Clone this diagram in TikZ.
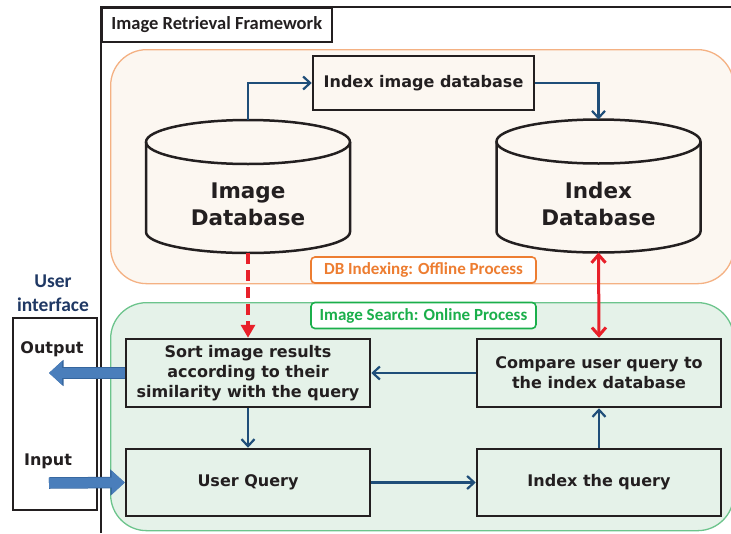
\documentclass[tikz,border=0pt]{standalone}
\usepackage{fontspec}
\setmainfont{DejaVu Sans}
\newfontfamily\calibri{Carlito}
\usetikzlibrary{arrows.meta,positioning}
\definecolor{offlineline}{HTML}{F4B183}
\definecolor{offlinefill}{HTML}{FCF7F1}
\definecolor{offlinetext}{HTML}{ED7D31}
\definecolor{onlineline}{HTML}{6CC48C}
\definecolor{onlinefill}{HTML}{E5F2E9}
\definecolor{onlinetext}{HTML}{1BAF4B}
\definecolor{flowblue}{HTML}{1F4E79}
\definecolor{uinavy}{HTML}{1F3864}
\definecolor{linkred}{HTML}{E8202A}
\definecolor{blockfill}{HTML}{4A7EBB}
\definecolor{blockline}{HTML}{35659D}
\definecolor{ink}{HTML}{231F20}
\tikzset{
    %Define standard arrow tip
    >={Straight Barb[length=7pt,width=13pt]},
    %Define style for process boxes
    process/.style={
           rectangle,
           draw=ink, line width=2.5pt,
           text=ink,
           minimum width=244pt,
           minimum height=68pt,
           align=center,
           font=\bfseries\fontsize{16}{20}\selectfont},
    %Define style for databases
    database/.style={rectangle, inner sep=0pt, outer sep=0pt,
           minimum width=204pt, minimum height=133pt},
    dbline/.style={draw=ink, line width=2.5pt},
    dbtext/.style={text=ink, align=center,
           font=\bfseries\fontsize{21.5}{27}\selectfont},
    % Define arrow styles
    flow/.style={->, draw=flowblue, line width=2.2pt},
    query/.style={{Straight Barb[length=8pt,width=14pt]}-{Straight Barb[length=8pt,width=14pt]}, draw=linkred, line width=3pt},
    fetch/.style={-{Triangle[length=13pt,width=14pt]}, draw=linkred, line width=3.5pt, dash pattern=on 11pt off 6pt},
    bigarrow/.style={draw=blockfill, line width=10pt, -{Triangle[length=13pt,width=23pt]},
           preaction={draw=blockline, line width=11.5pt, -{Triangle[length=14.5pt,width=25.5pt]}}},
    % Define area styles
    area/.style={rectangle, anchor=north west, rounded corners=36pt, line width=1.3pt,
           minimum width=623pt},
    areatag/.style={rectangle, rounded corners=4pt, fill=white, line width=1.6pt,
           minimum width=225pt, minimum height=26pt,
           font=\calibri\bfseries\fontsize{17}{19}\selectfont}
}

\begin{document}
\begin{tikzpicture}[x=1pt,y=-1pt]
  \useasboundingbox (0,0) rectangle (731,533);
  % framework
  \draw[draw=ink, line width=1.6pt] (101,533) -- (101,7) -- (733,7);
  \node[draw=ink, line width=1.6pt, fill=white, anchor=north west,
        minimum width=230pt, minimum height=34pt, text=ink,
        font=\calibri\bfseries\fontsize{18.5}{20}\selectfont] (title) at (101,7) {Image Retrieval Framework};
  % offline and online areas
  \node[area, draw=offlineline, fill=offlinefill, minimum height=234pt] (offline) at (110,49) {};
  \node[area, draw=onlineline, fill=onlinefill, minimum height=228pt] (online) at (110,302) {};
  \node[areatag, draw=offlinetext, text=offlinetext] (offtag) at (423.5,270) {DB Indexing: Offline Process};
  \node[areatag, draw=onlinetext, text=onlinetext] (ontag) at (423.5,315.5) {Image Search: Online Process};

  % databases
  \node[database] (imgdb) at (248,186.5) {};
  \draw[dbline] ([yshift=-22pt]imgdb.north west) -- ([yshift=21pt]imgdb.south west)
     arc[start angle=180, end angle=360, x radius=102pt, y radius=21pt] -- ([yshift=-22pt]imgdb.north east);
  \draw[dbline] ([yshift=-22pt]imgdb.north) ellipse[x radius=102pt, y radius=22pt];
  \node[dbtext] (imgdbtext) at ([yshift=-18pt]imgdb.center) {Image\\Database};
  \node[database] (idxdb) at (598.5,186) {};
  \draw[dbline] ([yshift=-22pt]idxdb.north west) -- ([yshift=21pt]idxdb.south west)
     arc[start angle=180, end angle=360, x radius=102pt, y radius=21pt] -- ([yshift=-22pt]idxdb.north east);
  \draw[dbline] ([yshift=-22pt]idxdb.north) ellipse[x radius=102pt, y radius=22pt];
  \node[dbtext] (idxdbtext) at ([yshift=-18pt]idxdb.center) {Index\\Database};
  \node[process, fill=offlinefill, minimum width=221pt, minimum height=54pt] (idxbox) at (423.5,83) {Index image database};

  % processes
  \node[process, fill=onlinefill] (sort) at (248,373) {Sort image results\\according to their\\similarity with the query};
  \node[process, fill=onlinefill] (cmp) at (599,373) {Compare user query to\\the index database};
  \node[process, fill=onlinefill, minimum height=67pt] (uq) at (248,482.5) {User Query};
  \node[process, fill=onlinefill, minimum height=67pt] (iq) at (599,482.5) {Index the query};

  % user interface
  \node[draw=ink, line width=1.6pt, fill=white, minimum width=84pt, minimum height=192pt] (ui) at (55,414) {};
  \node[text=uinavy, align=center, font=\calibri\bfseries\fontsize{19.5}{24}\selectfont] (uilabel) at (53,293) {User\\interface};
  \node[text=ink, font=\bfseries\fontsize{16}{20}\selectfont] (outlabel) at (52,349) {Output};
  \node[text=ink, font=\bfseries\fontsize{16}{20}\selectfont] (inlabel) at (48,461) {Input};
  \coordinate (outtip) at (49,373);
  \coordinate (intail) at (49,483);

  % connectors
  \draw[flow] (imgdb.north) |- (idxbox.west);
  \draw[flow] (idxbox.east) -| (idxdb.north);
  \draw[fetch] (imgdb.south) -- (sort.north);
  \draw[query] (idxdb.south) -- (cmp.north);
  \draw[flow] (cmp.west) -- (sort.east);
  \draw[flow] (sort.south) -- (uq.north);
  \draw[flow] (uq.east) -- (iq.west);
  \draw[flow] (iq.north) -- (cmp.south);
  \draw[bigarrow] (sort.west) -- (outtip);
  \draw[bigarrow] (intail) -- (uq.west);
\end{tikzpicture}
\end{document}
